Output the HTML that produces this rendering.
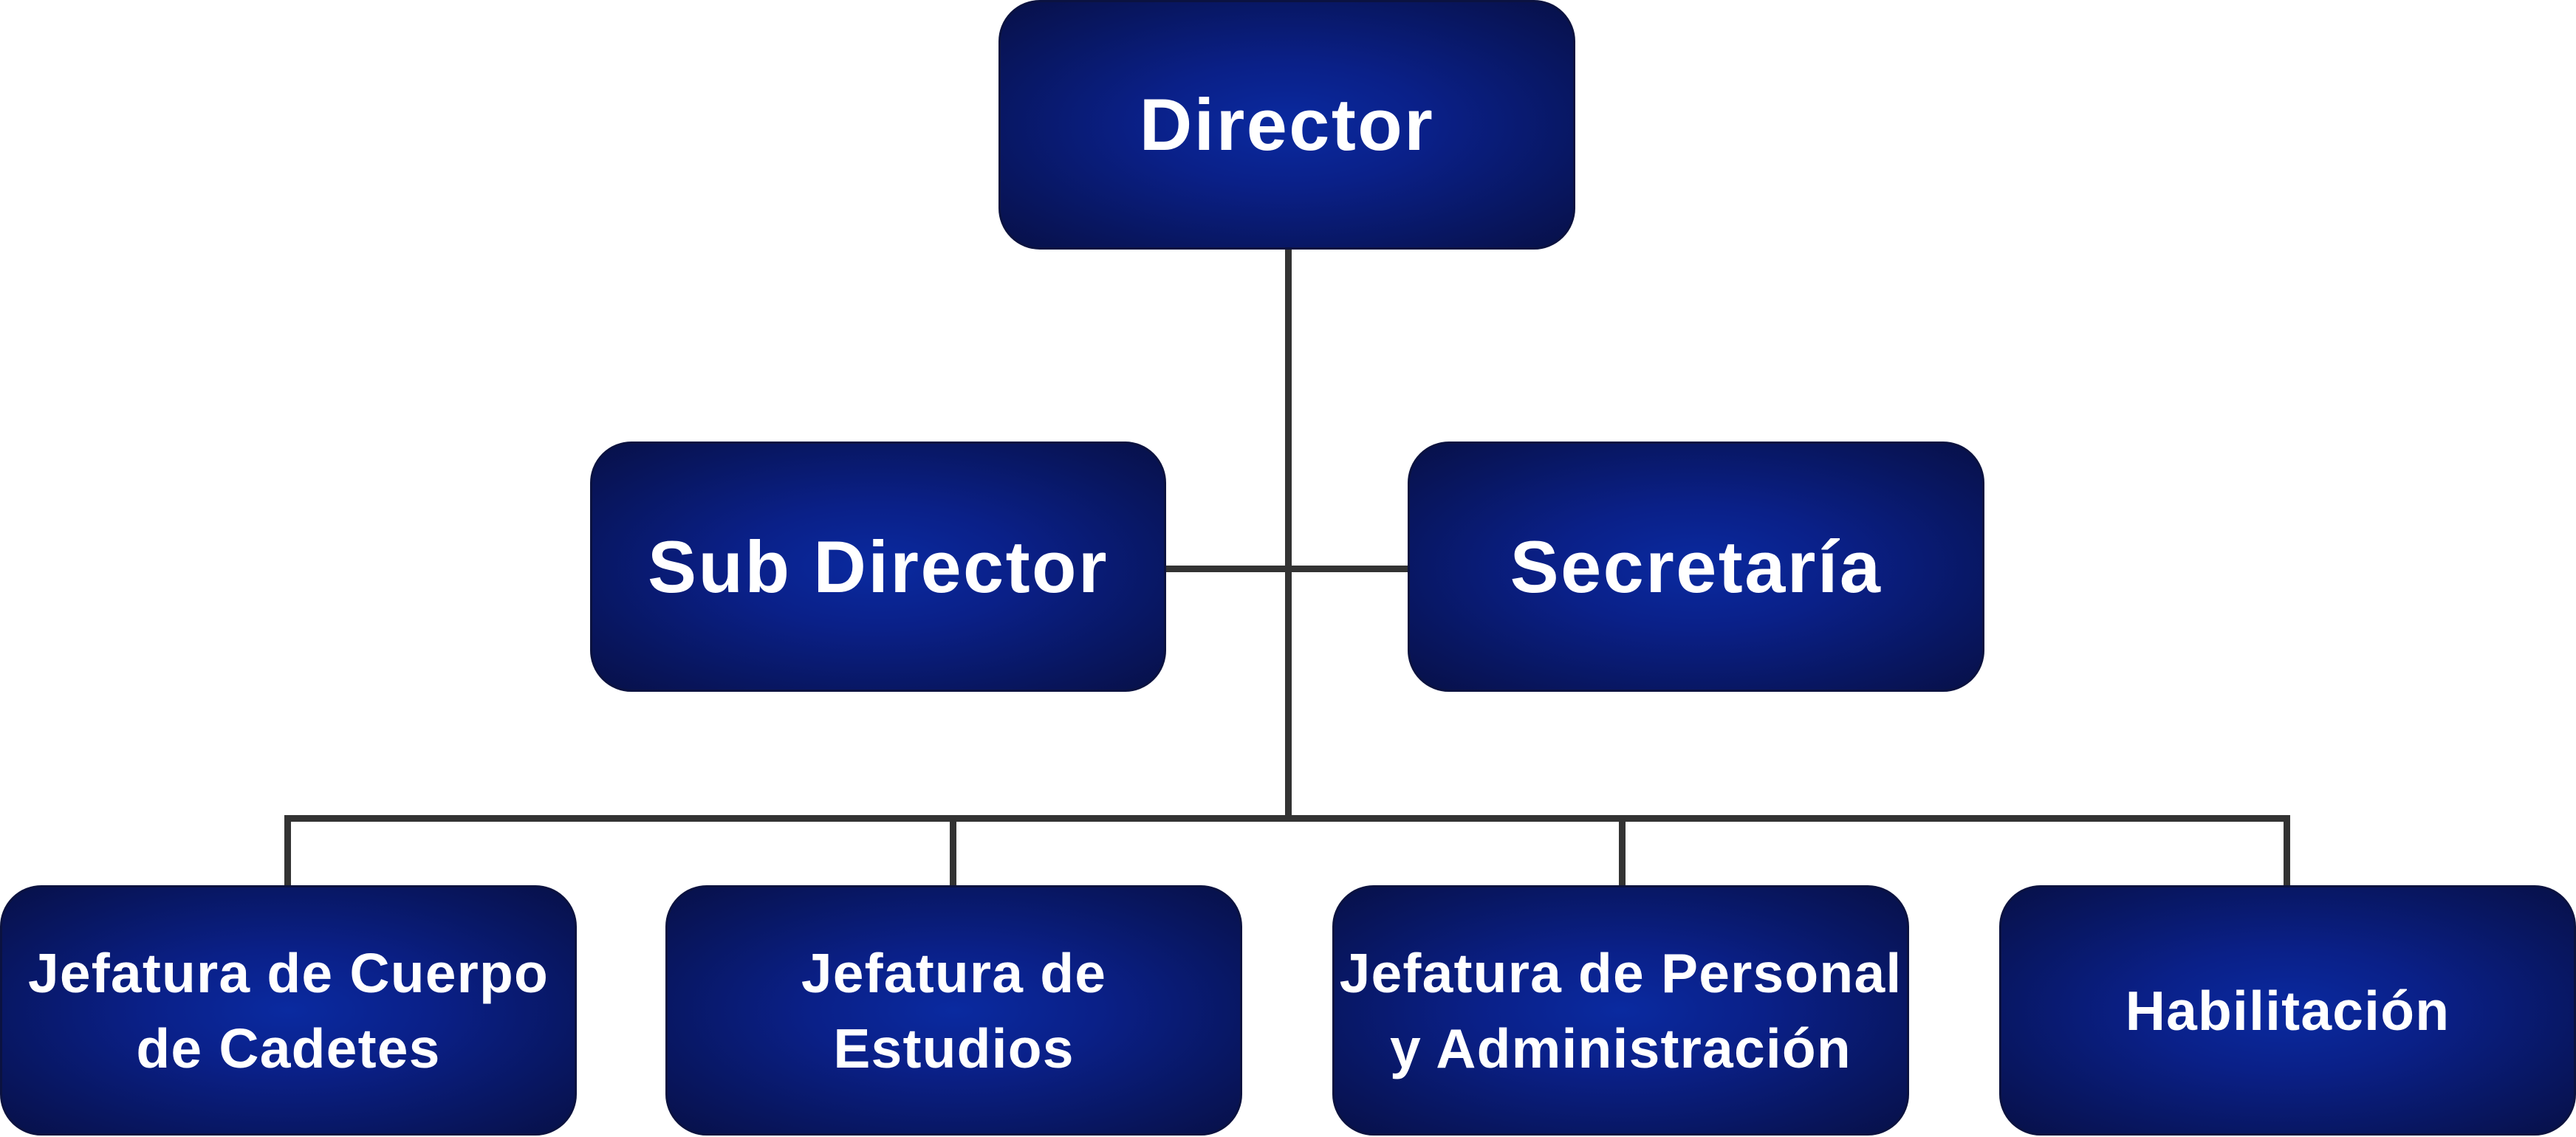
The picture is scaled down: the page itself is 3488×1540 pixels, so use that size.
<!DOCTYPE html>
<html><head><meta charset="utf-8"><style>
html,body{margin:0;padding:0;background:#fff;}
body{width:3488px;height:1540px;position:relative;overflow:hidden;font-family:"Liberation Sans",sans-serif;}
.b{position:absolute;box-sizing:border-box;border-radius:56px;border:3px solid #0b1240;
background:radial-gradient(ellipse at center,#0a2aa0 0%,#0a2088 35%,#081660 75%,#071048 100%);
color:#fff;font-weight:bold;display:flex;align-items:center;justify-content:center;text-align:center;}
.big{font-size:99px;letter-spacing:2.5px;}
.sm{font-size:75px;letter-spacing:1.2px;line-height:102px;}
.l{position:absolute;background:#333;}
</style></head><body>
<div class="l" style="left:1740px;top:330px;width:9px;height:782px"></div>
<div class="l" style="left:1575px;top:766px;width:335px;height:9px"></div>
<div class="l" style="left:385px;top:1104px;width:2715px;height:9px"></div>
<div class="l" style="left:385px;top:1104px;width:9px;height:100px"></div>
<div class="l" style="left:1286px;top:1104px;width:9px;height:100px"></div>
<div class="l" style="left:2192px;top:1104px;width:9px;height:100px"></div>
<div class="l" style="left:3092px;top:1104px;width:9px;height:100px"></div>

<div class="b big" style="left:1352px;top:0;width:781px;height:338px">Director</div>
<div class="b big" style="left:799px;top:598px;width:780px;height:339px">Sub Director</div>
<div class="b big" style="left:1906px;top:598px;width:781px;height:339px">Secretaría</div>
<div class="b sm" style="left:0;top:1199px;width:781px;height:339px">Jefatura de Cuerpo<br>de Cadetes</div>
<div class="b sm" style="left:901px;top:1199px;width:781px;height:339px">Jefatura de<br>Estudios</div>
<div class="b sm" style="left:1804px;top:1199px;width:781px;height:339px">Jefatura de Personal<br>y Administración</div>
<div class="b sm" style="left:2707px;top:1199px;width:781px;height:339px">Habilitación</div>
</body></html>
